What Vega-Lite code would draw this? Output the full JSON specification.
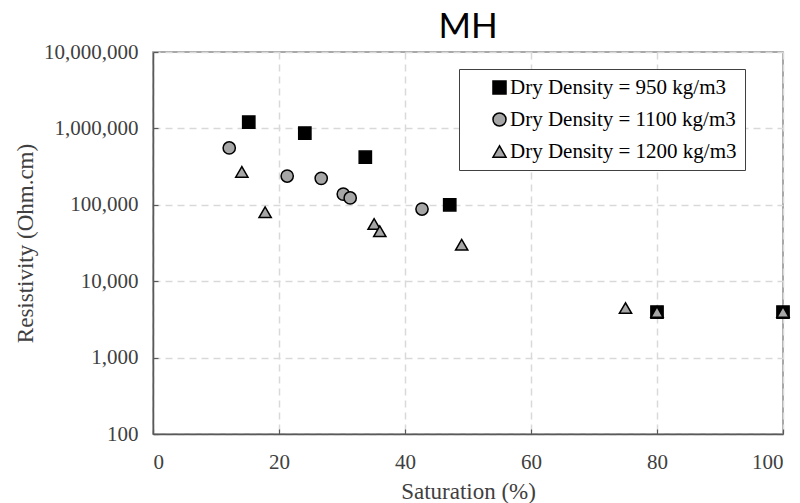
{
  "$schema": "https://vega.github.io/schema/vega-lite/v6.json",
  "width": 630,
  "height": 382,
  "autosize": {"type": "none"},
  "padding": {"left": 153, "top": 52, "right": 17, "bottom": 69},
  "background": "white",
  "title": {"text": "MH", "font": "Lato", "fontSize": 35, "fontWeight": "normal", "color": "#000000", "anchor": "middle", "offset": -4},
  "config": {
    "view": {"stroke": "#8c8c8c", "strokeWidth": 1.5},
    "axis": {
      "labelFont": "Liberation Serif", "labelFontSize": 21, "labelColor": "#404040",
      "titleFont": "Liberation Serif", "titleFontSize": 23, "titleColor": "#404040", "titleFontWeight": "normal",
      "domainColor": "#595959", "domainWidth": 1.5,
      "tickColor": "#595959", "tickWidth": 1.2,
      "gridColor": "#d9d9d9", "gridDash": [7, 5], "gridWidth": 1.5
    },
    "legend": {
      "labelFont": "Liberation Serif", "labelFontSize": 21, "labelColor": "#000000", "labelLimit": 400,
      "symbolStrokeColor": "#000000", "symbolStrokeWidth": 1.5
    }
  },
  "data": {"values": [
    {"density": "Dry Density = 950 kg/m3", "saturation": 15.2, "resistivity": 1210000},
    {"density": "Dry Density = 950 kg/m3", "saturation": 24.1, "resistivity": 870000},
    {"density": "Dry Density = 950 kg/m3", "saturation": 33.7, "resistivity": 420000},
    {"density": "Dry Density = 950 kg/m3", "saturation": 47.1, "resistivity": 100000},
    {"density": "Dry Density = 950 kg/m3", "saturation": 80, "resistivity": 3950},
    {"density": "Dry Density = 950 kg/m3", "saturation": 100, "resistivity": 3950},
    {"density": "Dry Density = 1100 kg/m3", "saturation": 12.1, "resistivity": 555000},
    {"density": "Dry Density = 1100 kg/m3", "saturation": 21.3, "resistivity": 238000},
    {"density": "Dry Density = 1100 kg/m3", "saturation": 26.7, "resistivity": 222000},
    {"density": "Dry Density = 1100 kg/m3", "saturation": 30.2, "resistivity": 138000},
    {"density": "Dry Density = 1100 kg/m3", "saturation": 31.3, "resistivity": 123000},
    {"density": "Dry Density = 1100 kg/m3", "saturation": 42.7, "resistivity": 88000},
    {"density": "Dry Density = 1200 kg/m3", "saturation": 14.1, "resistivity": 270000},
    {"density": "Dry Density = 1200 kg/m3", "saturation": 17.8, "resistivity": 80000},
    {"density": "Dry Density = 1200 kg/m3", "saturation": 35.1, "resistivity": 56000},
    {"density": "Dry Density = 1200 kg/m3", "saturation": 36.0, "resistivity": 45000},
    {"density": "Dry Density = 1200 kg/m3", "saturation": 49.0, "resistivity": 30000},
    {"density": "Dry Density = 1200 kg/m3", "saturation": 75, "resistivity": 4450},
    {"density": "Dry Density = 1200 kg/m3", "saturation": 80, "resistivity": 3950},
    {"density": "Dry Density = 1200 kg/m3", "saturation": 100, "resistivity": 3950}
  ]},
  "mark": {"type": "point", "filled": true, "stroke": "#000000", "strokeWidth": 1.5, "opacity": 1, "size": 150},
  "encoding": {
    "x": {
      "field": "saturation", "type": "quantitative",
      "scale": {"domain": [0, 100], "nice": false, "zero": false},
      "axis": {"title": "Saturation (%)", "values": [0, 20, 40, 60, 80, 100], "tickSize": -5, "labelPadding": 22, "titlePadding": 8}
    },
    "y": {
      "field": "resistivity", "type": "quantitative",
      "scale": {"type": "log", "domain": [100, 10000000], "nice": false},
      "axis": {"title": "Resistivity (Ohm.cm)", "values": [100, 1000, 10000, 100000, 1000000, 10000000], "format": ",", "tickSize": -5, "labelPadding": 20, "titlePadding": 6}
    },
    "shape": {
      "field": "density", "type": "nominal",
      "scale": {"domain": ["Dry Density = 950 kg/m3", "Dry Density = 1100 kg/m3", "Dry Density = 1200 kg/m3"], "range": ["square", "circle", "triangle-up"]},
      "legend": {
        "title": null, "labelExpr": "datum.label + '\u00a0\u00a0\u00a0\u00a0'",
        "orient": "none", "legendX": 306, "legendY": 17,
        "padding": 8, "strokeColor": "#404040", "fillColor": "white",
        "labelFont": "Liberation Serif", "labelFontSize": 21, "labelColor": "#000000", "labelLimit": 400,
        "symbolOffset": 22, "labelOffset": 0, "rowPadding": 10,
        "symbolSize": 170, "symbolStrokeColor": "#000000", "symbolStrokeWidth": 1.5
      }
    },
    "color": {
      "field": "density", "type": "nominal",
      "scale": {"domain": ["Dry Density = 950 kg/m3", "Dry Density = 1100 kg/m3", "Dry Density = 1200 kg/m3"], "range": ["#000000", "#a6a6a6", "#a6a6a6"]},
      "legend": {
        "title": null, "labelExpr": "datum.label + '\u00a0\u00a0\u00a0\u00a0'",
        "orient": "none", "legendX": 306, "legendY": 17,
        "padding": 8, "strokeColor": "#404040", "fillColor": "white",
        "labelFont": "Liberation Serif", "labelFontSize": 21, "labelColor": "#000000", "labelLimit": 400,
        "symbolOffset": 22, "labelOffset": 0, "rowPadding": 10,
        "symbolSize": 170, "symbolStrokeColor": "#000000", "symbolStrokeWidth": 1.5
      }
    },
    "order": {"field": "density", "sort": "descending"}
  }
}
